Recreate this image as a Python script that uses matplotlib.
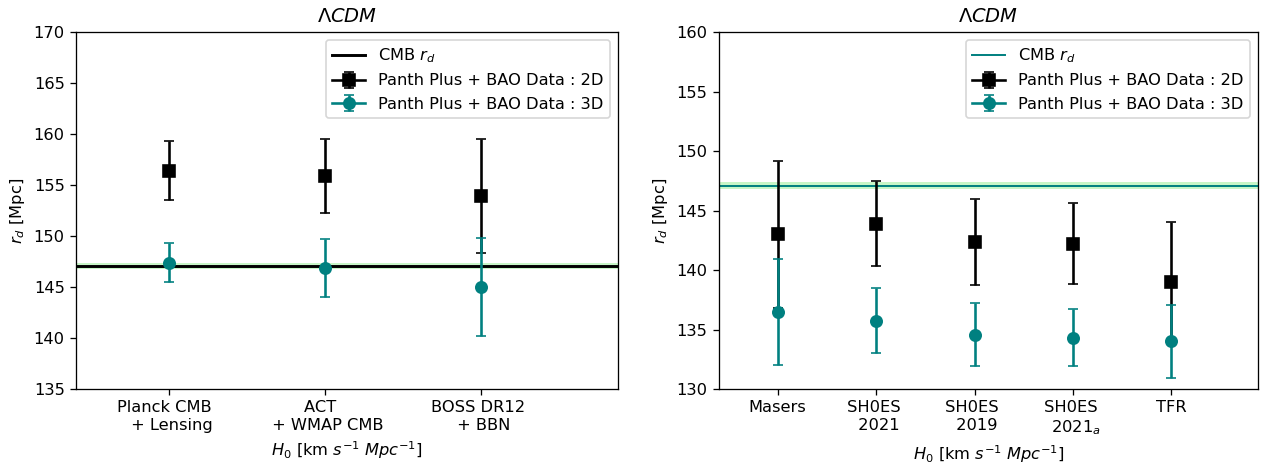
import matplotlib
matplotlib.use("Agg")
import matplotlib.pyplot as plt
import numpy as np

# CMB sound horizon (Planck)
cmb_rd = 147.1
cmb_rd_err = 0.3

# left panel: early-universe H0 priors
left_labels = ['Planck CMB  \n + Lensing', 'ACT  \n + WMAP CMB', 'BOSS DR12 \n + BBN']
left_2d = [156.4, 155.9, 153.9]
left_2d_err = [2.9, 3.65, 5.6]
left_3d = [147.4, 146.9, 145.0]
left_3d_err = [1.9, 2.85, 4.8]

# right panel: late-universe H0 priors
right_labels = ['Masers', 'SH0ES \n 2021', 'SH0ES \n 2019', 'SH0ES \n 2021$_a$', 'TFR']
right_2d = [143.0, 143.9, 142.35, 142.2, 139.0]
right_2d_err = [6.2, 3.55, 3.65, 3.4, 5.0]
right_3d = [136.5, 135.75, 134.55, 134.3, 134.0]
right_3d_err = [4.45, 2.7, 2.65, 2.4, 3.05]

dpi = 117
fig = plt.figure(figsize=(1263 / dpi, 464 / dpi), dpi=dpi)
ax1 = fig.add_axes([0.0602, 0.1616, 0.4291, 0.7694])
ax2 = fig.add_axes([0.5690, 0.1616, 0.4271, 0.7694])


def draw_panel(ax, labels, v2d, e2d, v3d, e3d, line_color, line_w, ylim):
    x = np.arange(1, len(labels) + 1)
    ax.axhspan(cmb_rd - cmb_rd_err, cmb_rd + cmb_rd_err, color='lightgreen', alpha=0.5, lw=0)
    ax.axhline(cmb_rd, color=line_color, lw=line_w, label='CMB $r_d$')
    # one errorbar call per point, so only the first gets a legend entry
    for i in range(len(x)):
        ax.errorbar(x[i], v2d[i], yerr=e2d[i], fmt='-s', color='black', ms=7, capsize=3,
                    lw=1.6, label='Panth Plus + BAO Data : 2D' if i == 0 else None)
    for i in range(len(x)):
        ax.errorbar(x[i], v3d[i], yerr=e3d[i], fmt='-o', color='teal', ms=7, capsize=3,
                    lw=1.6, label='Panth Plus + BAO Data : 3D' if i == 0 else None)
    ax.set_xticks(x)
    ax.set_xticklabels(labels)
    ax.set_xlim(0.4, len(labels) + 0.88)
    ax.set_ylim(*ylim)
    ax.set_yticks(np.arange(ylim[0], ylim[1] + 1, 5))
    ax.set_ylabel('$r_d$ [Mpc]')
    ax.set_xlabel('$H_0$ [km $s^{-1}$ $Mpc^{-1}$]')
    ax.set_title(r'$\Lambda CDM$')
    ax.legend(loc='upper right')


draw_panel(ax1, left_labels, left_2d, left_2d_err, left_3d, left_3d_err, 'black', 1.8, (135, 170))
draw_panel(ax2, right_labels, right_2d, right_2d_err, right_3d, right_3d_err, 'teal', 1.2, (130, 160))

fig.savefig('out.png', dpi=dpi)
plt.close(fig)
